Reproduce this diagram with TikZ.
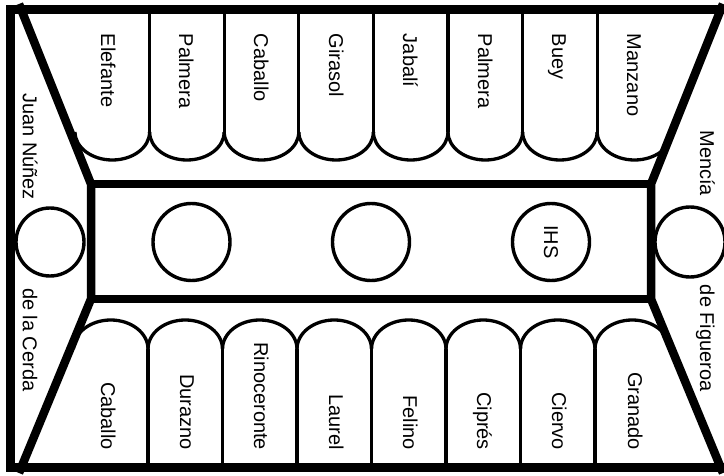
\documentclass[tikz,border=0pt]{standalone}
\usepackage{fontspec}
\setmainfont{Liberation Sans}
\begin{document}
\begin{tikzpicture}[x=1pt,y=-1pt,
  frameline/.style={line width=9pt},
  bandline/.style={line width=8.5pt, line join=round},
  lobe/.style={line width=3.3pt},
  ring/.style={circle, draw, line width=3.4pt, fill=white, inner sep=0pt, outer sep=0pt},
  lbl/.style={font=\fontsize{20}{24}\selectfont, inner sep=0pt, outer sep=0pt, rotate=-90}
]
\useasboundingbox (0,0) rectangle (724,476);
\clip (0,0) rectangle (724,476);
\fill[white] (0,0) rectangle (724,476);

% upper lobes
\begin{scope}
  \clip (20,10) -- (722,10) -- (651,184) -- (91,184) -- cycle;
  \foreach \i in {0,...,7} {
    \draw[lobe] ({75+74.6*\i},132) arc[start angle=180, end angle=0, x radius=37.3, y radius=28];
  }
  \foreach \i in {1,...,7} {
    \draw[lobe] ({75+74.6*\i},5) -- ({75+74.6*\i},132);
  }
\end{scope}

% lower lobes
\begin{scope}
  \clip (91,299) -- (651,299) -- (722,467) -- (20,467) -- cycle;
  \foreach \i in {0,...,7} {
    \draw[lobe] ({73.5+74.5*\i},349) arc[start angle=180, end angle=360, x radius=37.25, y radius=29];
  }
  \foreach \i in {1,...,7} {
    \draw[lobe] ({73.5+74.5*\i},349) -- ({73.5+74.5*\i},472);
  }
\end{scope}

% frame
\draw[frameline] (10.5,10) rectangle (745,467);
% bands and diagonals
\draw[bandline] (19,4) -- (91,184) -- (91,299) -- (19,473);
\draw[bandline] (723,4) -- (651,184) -- (651,299) -- (723,473);
\draw[bandline] (91,184) -- (651,184);
\draw[bandline] (91,299) -- (651,299);

% circles
\node[ring, minimum size=68pt] (cl) at (50,242) {};
\node[ring, minimum size=70pt] (cr) at (690,242) {};
\node[ring, minimum size=77pt] (c1) at (191.5,242) {};
\node[ring, minimum size=77pt] (c2) at (371,242) {};
\node[ring, minimum size=77pt] (c3) at (551,242) {};
\node[lbl] (ihs) at (c3) {IHS};

% upper lobe labels
\node[lbl, anchor=base west] (t1) at (101,34) {Elefante};
\node[lbl, anchor=base west] (t2) at (179,34) {Palmera};
\node[lbl, anchor=base west] (t3) at (254,34) {Caballo};
\node[lbl, anchor=base west] (t4) at (329,34) {Girasol};
\node[lbl, anchor=base west] (t5) at (403,34) {Jabalí};
\node[lbl, anchor=base west] (t6) at (478,34) {Palmera};
\node[lbl, anchor=base west] (t7) at (552,34) {Buey};
\node[lbl, anchor=base west] (t8) at (627,34) {Manzano};

% lower lobe labels
\node[lbl, anchor=base east] (b1) at (101,450) {Caballo};
\node[lbl, anchor=base east] (b2) at (180,450) {Durazno};
\node[lbl, anchor=base east] (b3) at (254,450) {Rinoceronte};
\node[lbl, anchor=base east] (b4) at (329,450) {Laurel};
\node[lbl, anchor=base east] (b5) at (403,450) {Felino};
\node[lbl, anchor=base east] (b6) at (477,450) {Ciprés};
\node[lbl, anchor=base east] (b7) at (552,450) {Ciervo};
\node[lbl, anchor=base east] (b8) at (628,450) {Granado};

% side labels
\node[lbl, anchor=base east] (s1) at (23,200) {Juan Núñez};
\node[lbl, anchor=base west] (s2) at (23,288) {de la Cerda};
\node[lbl, anchor=base east] (s3) at (700,196) {Mencía};
\node[lbl, anchor=base west] (s4) at (700,285) {de Figueroa};
\end{tikzpicture}
\end{document}
